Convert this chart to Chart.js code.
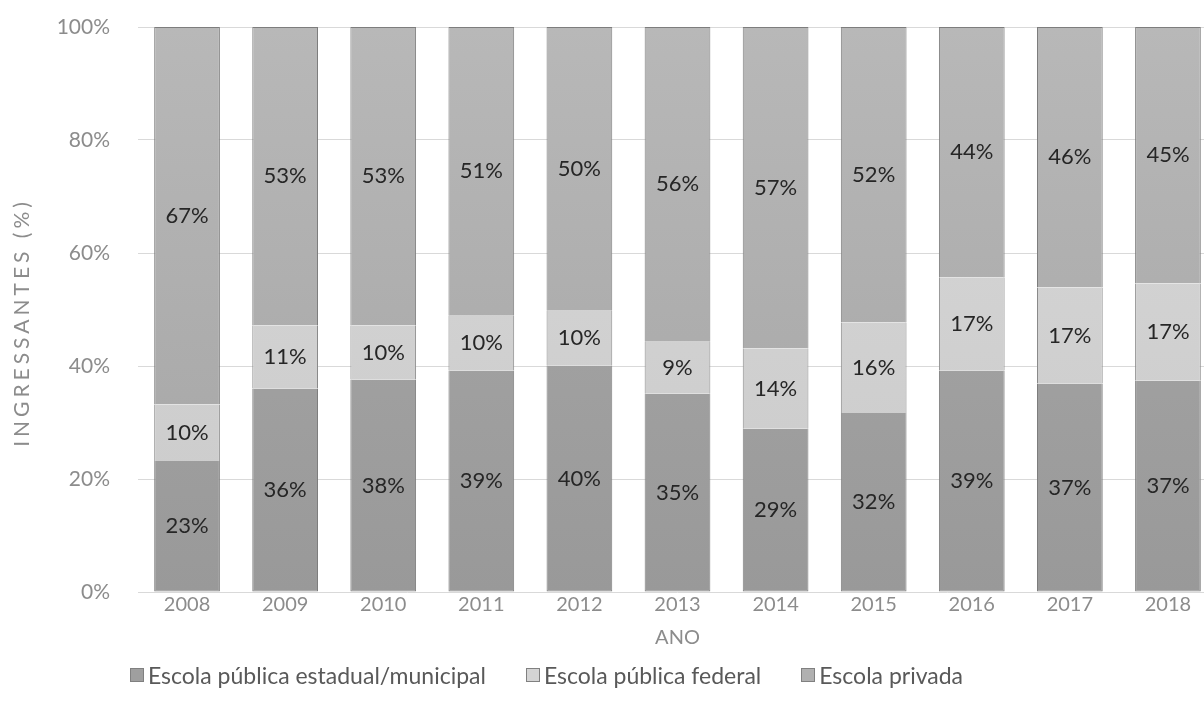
<!DOCTYPE html>
<html>
<head>
<meta charset="utf-8">
<script src="https://cdn.jsdelivr.net/npm/chart.js@4/dist/chart.umd.min.js"></script>
<style>
  html, body { margin: 0; padding: 0; background: #fff; overflow: hidden; }
  #wrap { position: relative; width: 1232px; height: 722px; }
  #legend {
    position: absolute; left: 130px; top: 661px;
    display: flex; gap: 40px;
    font-family: Lato, "Noto Sans", sans-serif; font-size: 23px; color: #595959;
  }
  #legend span.item { display: flex; align-items: center; }
  #legend i { display: inline-block; width: 12px; height: 12px; margin-right: 4px; border: 1px solid #808080; }
</style>
</head>
<body>
<div id="wrap">
  <canvas id="myChart" width="1232" height="722"></canvas>
  <div id="legend"></div>
</div>
<script>
var anos = ['2008','2009','2010','2011','2012','2013','2014','2015','2016','2017','2018']
var estadualMunicipal = [23.2, 36.0, 37.6, 39.2, 40.1, 35.1, 28.9, 31.7, 39.2, 36.9, 37.4]
var federal = [10.0, 11.2, 9.6, 9.7, 9.7, 9.2, 14.2, 16.0, 16.5, 17.0, 17.2]
var privada = [66.8, 52.8, 52.8, 51.1, 50.2, 55.7, 56.9, 52.3, 44.3, 46.1, 45.4]
var yTicks = [0, 20, 40, 60, 80, 100]

var nomes = ['Escola pública estadual/municipal', 'Escola pública federal', 'Escola privada']
var legendColors = ['#9f9f9f', '#d4d4d4', '#b0b0b0']
var yTitle = 'INGRESSANTES (%)'

var fam = 'Lato, "Noto Sans", sans-serif'

// vertical gradient over the whole plot area, like the spreadsheet fill
function grad(top, bottom) {
    return function(context) {
        var area = context.chart.chartArea
        if (!area) return bottom
        var g = context.chart.ctx.createLinearGradient(0, area.top, 0, area.bottom)
        g.addColorStop(0, top)
        g.addColorStop(1, bottom)
        return g
    }
}

// percentage written in the middle of each segment
var segLabels = {
    id: 'segLabels',
    afterDatasetsDraw: function(chart) {
        var ctx = chart.ctx
        ctx.save()
        ctx.font = '22px ' + fam
        ctx.fillStyle = '#262626'
        ctx.textAlign = 'center'
        ctx.textBaseline = 'middle'
        chart.data.datasets.forEach(function(ds, i) {
            chart.getDatasetMeta(i).data.forEach(function(bar, j) {
                ctx.fillText(Math.round(ds.data[j]) + '%', bar.x, (bar.y + bar.base) / 2)
            })
        })
        ctx.restore()
    }
}

// y title drawn by hand so it can get the wide letter spacing
var yTitlePlugin = {
    id: 'yTitle',
    afterDraw: function(chart) {
        var ctx = chart.ctx
        var area = chart.chartArea
        ctx.save()
        ctx.font = '21px ' + fam
        ctx.letterSpacing = '4px'
        var w = ctx.measureText(yTitle).width
        ctx.translate(22, (area.top + area.bottom) / 2 + 13 + w / 2)
        ctx.rotate(-Math.PI / 2)
        ctx.fillStyle = '#8c8c8c'
        ctx.textAlign = 'left'
        ctx.textBaseline = 'middle'
        ctx.fillText(yTitle, 0, 0)
        ctx.restore()
    }
}

var ctx = document.getElementById('myChart')
var myChart = new Chart(ctx, {
    type: 'bar',
    data: {
        labels: anos,
        datasets: [{
            label: nomes[0],
            data: estadualMunicipal,
            backgroundColor: grad('#aaaaaa', '#999999'),
            borderColor: '#7d7d7d',
            borderWidth: {left: 1, right: 1, top: 0, bottom: 1},
            borderSkipped: false
        }, {
            label: nomes[1],
            data: federal,
            backgroundColor: grad('#d8d8d8', '#cacaca'),
            borderColor: '#8a8a8a',
            borderWidth: {left: 1, right: 1, top: 0, bottom: 0},
            borderSkipped: false
        }, {
            label: nomes[2],
            data: privada,
            backgroundColor: grad('#b8b8b8', '#a4a4a4'),
            borderColor: '#7d7d7d',
            borderWidth: {left: 1, right: 1, top: 1, bottom: 0},
            borderSkipped: false
        }]
    },
    options: {
        responsive: false,
        animation: false,
        layout: { padding: { top: 27, right: 15, bottom: 68, left: 0 } },
        datasets: { bar: { categoryPercentage: 1, barPercentage: 0.67 } },
        plugins: {
            legend: { display: false },
            tooltip: { enabled: false }
        },
        scales: {
            x: {
                stacked: true,
                grid: { display: false, drawTicks: false },
                border: { display: false },
                ticks: { color: '#8c8c8c', font: { family: fam, size: 20 }, padding: 1 },
                title: {
                    display: true, text: 'ANO', color: '#8c8c8c', font: { family: fam, size: 20 },
                    padding: { top: 8, bottom: 4 }
                }
            },
            y: {
                stacked: true,
                min: 0,
                max: 100,
                afterFit: function(scale) { scale.width = 138 },
                afterBuildTicks: function(scale) {
                    scale.ticks = yTicks.map(function(v) { return { value: v } })
                },
                // invisible tick marks keep the labels away from the bars
                grid: { color: '#d9d9d9', drawTicks: true, tickLength: 26, tickColor: 'rgba(0,0,0,0)' },
                border: { display: false },
                ticks: {
                    color: '#8c8c8c', font: { family: fam, size: 21 }, padding: 2,
                    callback: function(v) { return v + '%' }
                }
            }
        }
    },
    plugins: [segLabels, yTitlePlugin]
})

// legend below the axis title
var leg = document.getElementById('legend')
nomes.forEach(function(n, i) {
    var item = document.createElement('span')
    item.className = 'item'
    var sw = document.createElement('i')
    sw.style.background = legendColors[i]
    item.appendChild(sw)
    item.appendChild(document.createTextNode(n))
    leg.appendChild(item)
})
</script>
</body>
</html>
